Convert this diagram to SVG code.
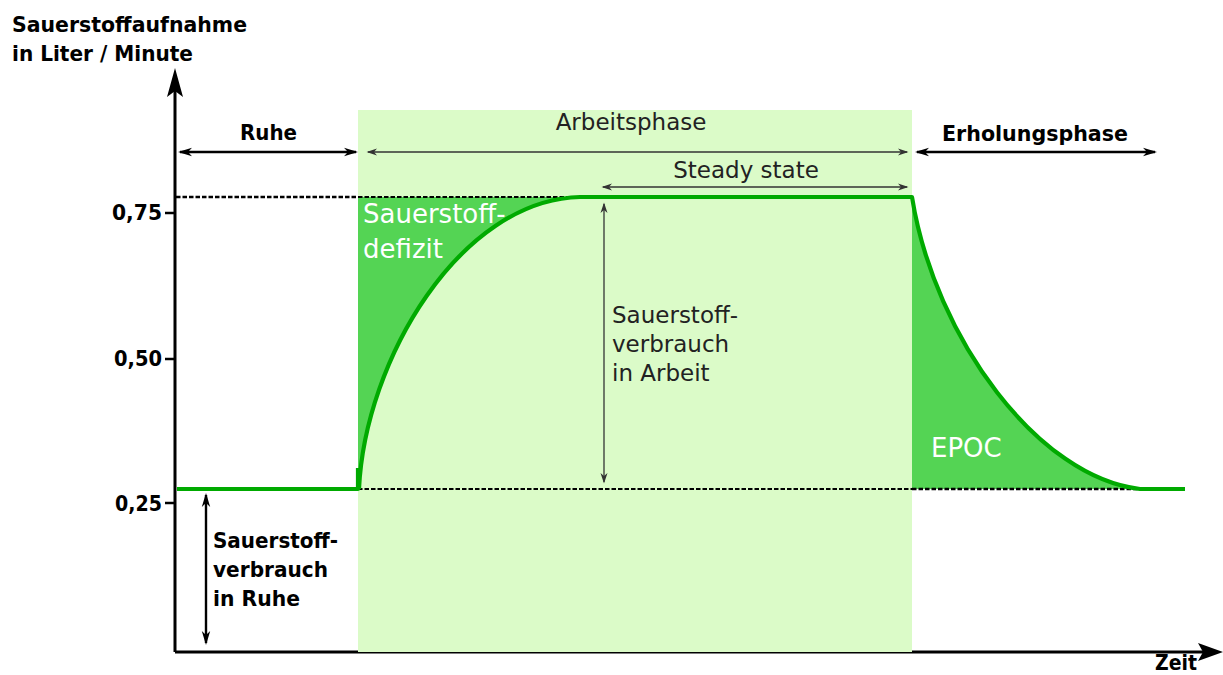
<svg xmlns="http://www.w3.org/2000/svg" width="1223" height="675" viewBox="0 0 1223 675">
  <style>
    .bold { font-family: "DejaVu Sans", "Liberation Sans", sans-serif; font-weight: bold; font-size: 22px; fill: #000; }
    .reg { font-family: "DejaVu Sans", "Liberation Sans", sans-serif; font-size: 23px; fill: #222; }
    .white { font-family: "DejaVu Sans", "Liberation Sans", sans-serif; font-size: 26px; fill: #fff; }
    .axis { stroke: #000; stroke-width: 3; fill: none; }
    .tick { stroke: #000; stroke-width: 2.5; fill: none; }
    .dash { stroke: #000; stroke-dasharray: 4.5 2; fill: none; }
    .curve { stroke: #00aa00; stroke-width: 4.2; fill: none; stroke-linejoin: round; }
    .area { fill: #54d454; }
    .thick { stroke: #000; stroke-width: 2.4; fill: none; }
    .thin { stroke: #333; stroke-width: 1.3; fill: none; }
  </style>
  <defs>
    <marker id="ahThick" viewBox="-13 -5 16 10" refX="0" refY="0" markerWidth="16" markerHeight="10" markerUnits="userSpaceOnUse" orient="auto-start-reverse">
      <path d="M2,0 L-12,-4.2 L-8,0 L-12,4.2 Z" fill="#000"/>
    </marker>
    <marker id="ahThin" viewBox="-10 -5 13 10" refX="0" refY="0" markerWidth="13" markerHeight="10" markerUnits="userSpaceOnUse" orient="auto-start-reverse">
      <path d="M1.5,0 L-9,-3.5 L-6,0 L-9,3.5 Z" fill="#333"/>
    </marker>
  </defs>

  <rect width="1223" height="675" fill="#fff"/>

  <g id="axes">
    <line class="axis" x1="175" y1="652" x2="175" y2="88"/>
    <polygon points="175,68 183,97 175,91 167,97" fill="#000"/>
    <line class="axis" x1="175" y1="652" x2="1205" y2="652"/>
    <polygon points="1223,652 1198,643 1203,652 1198,661" fill="#000"/>
    <line class="tick" x1="165" y1="213" x2="175" y2="213"/>
    <line class="tick" x1="165" y1="359" x2="175" y2="359"/>
    <line class="tick" x1="165" y1="503" x2="175" y2="503"/>
  </g>

  <g id="phase-band">
    <rect x="358" y="110" width="554" height="542" fill="#dbfbc8"/>
  </g>

  <g id="areas">
    <path class="area" d="M359,489 C365,360 460,200 580,197 L358,197 L358,489 Z"/>
    <path class="area" d="M912,197 C935,340 1040,478 1140,489 L912,489 Z"/>
  </g>

  <g id="reference-lines">
    <line class="dash" stroke-width="2.6" x1="176" y1="197" x2="358" y2="197"/>
    <line class="dash" stroke-width="2.1" x1="358" y1="197" x2="580" y2="197"/>
    <line class="dash" stroke-width="2.1" x1="358" y1="489" x2="912" y2="489"/>
    <line class="dash" stroke-width="2.6" x1="912" y1="489" x2="1140" y2="489"/>
  </g>

  <g id="uptake-curve">
    <path class="curve" d="M177,489 L358,489 L358,468 M359,489 C365,360 460,200 580,197 L912,197 C935,340 1040,478 1140,489 L1185,489"/>
  </g>

  <g id="connectors">
    <line class="thick" x1="180" y1="152" x2="356" y2="152" marker-start="url(#ahThick)" marker-end="url(#ahThick)"/>
    <line class="thin" x1="368" y1="152" x2="907" y2="152" marker-start="url(#ahThin)" marker-end="url(#ahThin)"/>
    <line class="thin" x1="603" y1="187" x2="907" y2="187" marker-start="url(#ahThin)" marker-end="url(#ahThin)"/>
    <line class="thick" x1="917" y1="152" x2="1155" y2="152" marker-start="url(#ahThick)" marker-end="url(#ahThick)"/>
    <line class="thin" x1="604" y1="204" x2="604" y2="482" marker-start="url(#ahThin)" marker-end="url(#ahThin)"/>
    <line class="thick" x1="206" y1="495" x2="206" y2="643" marker-start="url(#ahThick)" marker-end="url(#ahThick)"/>
  </g>

  <g id="y-axis-title">
    <text class="bold" x="12" y="32" textLength="235" lengthAdjust="spacingAndGlyphs">Sauerstoffaufnahme</text>
    <text class="bold" x="12" y="61" textLength="181" lengthAdjust="spacingAndGlyphs">in Liter / Minute</text>
  </g>
  <g id="y-labels">
    <text class="bold" x="112" y="220" textLength="50" lengthAdjust="spacingAndGlyphs">0,75</text>
    <text class="bold" x="114" y="366" textLength="48" lengthAdjust="spacingAndGlyphs">0,50</text>
    <text class="bold" x="115" y="511" textLength="47" lengthAdjust="spacingAndGlyphs">0,25</text>
  </g>
  <g id="x-axis-title">
    <text class="bold" x="1155" y="670" textLength="42" lengthAdjust="spacingAndGlyphs">Zeit</text>
  </g>

  <g id="ruhe">
    <text class="bold" x="240" y="140" textLength="57" lengthAdjust="spacingAndGlyphs">Ruhe</text>
  </g>
  <g id="arbeitsphase">
    <text class="reg" x="631" y="130" text-anchor="middle">Arbeitsphase</text>
  </g>
  <g id="steady-state">
    <text class="reg" x="746" y="178" text-anchor="middle">Steady state</text>
  </g>
  <g id="erholungsphase">
    <text class="bold" x="942" y="141" textLength="186" lengthAdjust="spacingAndGlyphs">Erholungsphase</text>
  </g>
  <g id="sauerstoffdefizit">
    <text class="white" x="363" y="223">Sauerstoff-</text>
    <text class="white" x="363" y="258">defizit</text>
  </g>
  <g id="epoc">
    <text class="white" x="931" y="457">EPOC</text>
  </g>
  <g id="verbrauch-arbeit">
    <text class="reg" x="612" y="323">Sauerstoff-</text>
    <text class="reg" x="612" y="352">verbrauch</text>
    <text class="reg" x="612" y="381">in Arbeit</text>
  </g>
  <g id="verbrauch-ruhe">
    <text class="bold" x="213" y="548" textLength="125" lengthAdjust="spacingAndGlyphs">Sauerstoff-</text>
    <text class="bold" x="213" y="577" textLength="115" lengthAdjust="spacingAndGlyphs">verbrauch</text>
    <text class="bold" x="213" y="606" textLength="87" lengthAdjust="spacingAndGlyphs">in Ruhe</text>
  </g>
</svg>
